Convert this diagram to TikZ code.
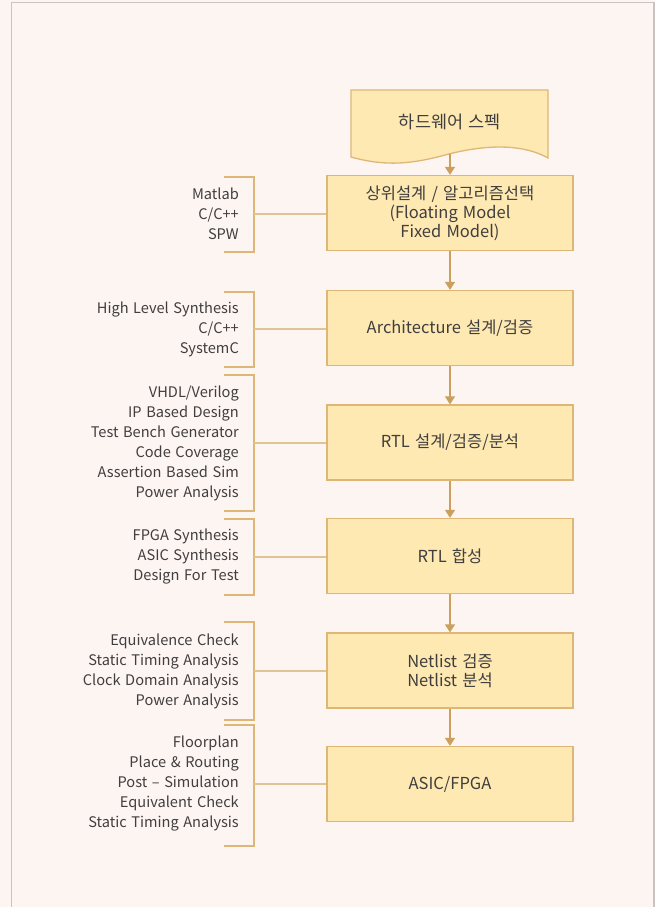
\documentclass[tikz,border=0pt]{standalone}
\usepackage{fontspec}
\setmainfont{Noto Sans CJK KR}[WordSpace=1.4]
\usetikzlibrary{arrows.meta}
\definecolor{bgc}{RGB}{253,245,242}
\definecolor{framec}{RGB}{200,196,194}
\definecolor{boxfill}{RGB}{254,233,179}
\definecolor{boxline}{RGB}{222,183,118}
\definecolor{linkc}{RGB}{226,196,146}
\definecolor{arrowc}{RGB}{202,160,92}
\definecolor{txt}{RGB}{64,62,62}
\tikzset{
  mainbox/.style={draw=boxline, fill=boxfill, line width=1.3pt, minimum width=246pt, minimum height=75pt, align=center, text=txt, font=\fontsize{16.5pt}{19pt}\selectfont, inner sep=0pt},
  sidetext/.style={anchor=east, align=right, text=txt, font=\fontsize{14.6pt}{20pt}\selectfont, inner sep=0pt},
  bracket/.style={draw=boxline, line width=1.1pt},
  link/.style={draw=linkc, line width=1.4pt},
  flow/.style={draw=arrowc, line width=1.3pt, -{Triangle[width=10pt,length=8pt]}},
}
\begin{document}
\begin{tikzpicture}[x=1pt,y=-1pt]
\useasboundingbox (0,0) rectangle (655,907);
\fill[bgc] (0,0) rectangle (655,907);
\draw[framec, line width=1.3pt] (11.5,910) -- (11.5,2.5) -- (654,2.5) -- (654,910);

% document shape
\draw[boxline, fill=boxfill, line width=1.3pt] (351,90) -- (548,90) -- (548,158)
  .. controls (525,145) and (490,143) .. (445,155)
  .. controls (405,166) and (380,165) .. (351,157) -- cycle;
\node[text=txt, font=\fontsize{17.5pt}{19pt}\selectfont] (spec) at (450,122) {하드웨어 스펙};
\coordinate (specb) at (450,154);

% main boxes
\node[mainbox] (m1) at (450,213) {상위설계 / 알고리즘선택\\(Floating Model\\Fixed Model)};
\node[mainbox] (m2) at (450,328) {Architecture 설계/검증};
\node[mainbox] (m3) at (450,442.5) {RTL 설계/검증/분석};
\node[mainbox] (m4) at (450,556) {RTL 합성};
\node[mainbox] (m5) at (450,670.5) {Netlist 검증\\Netlist 분석};
\node[mainbox] (m6) at (450,784) {ASIC/FPGA};

\draw[flow] (specb) -- (m1.north);
\draw[flow] (m1.south) -- (m2.north);
\draw[flow] (m2.south) -- (m3.north);
\draw[flow] (m3.south) -- (m4.north);
\draw[flow] (m4.south) -- (m5.north);
\draw[flow] (m5.south) -- (m6.north);

% side texts
\node[sidetext] (s1) at (239,214) {Matlab\\C/C++\\SPW};
\node[sidetext] (s2) at (239,329) {High Level Synthesis\\C/C++\\SystemC};
\node[sidetext] (s3) at (239,443) {VHDL/Verilog\\IP Based Design\\Test Bench Generator\\Code Coverage\\Assertion Based Sim\\Power Analysis};
\node[sidetext] (s4) at (239,557) {FPGA Synthesis\\ASIC Synthesis\\Design For Test};
\node[sidetext] (s5) at (239,671) {Equivalence Check\\Static Timing Analysis\\Clock Domain Analysis\\Power Analysis};
\node[sidetext] (s6) at (239,784) {Floorplan\\Place \& Routing\\Post – Simulation\\Equivalent Check\\Static Timing Analysis};

% brackets
\draw[bracket] (224,177) -- (254,177) -- (254,252) -- (224,252);
\draw[bracket] (224,292) -- (254,292) -- (254,367) -- (224,367);
\draw[bracket] (224,375) -- (254,375) -- (254,511) -- (224,511);
\draw[bracket] (224,519) -- (254,519) -- (254,595) -- (224,595);
\draw[bracket] (224,622) -- (254,622) -- (254,720) -- (224,720);
\draw[bracket] (224,725) -- (254,725) -- (254,846) -- (224,846);

\coordinate (b1) at (254,214);
\coordinate (b2) at (254,329);
\coordinate (b3) at (254,443);
\coordinate (b4) at (254,557);
\coordinate (b5) at (254,671);
\coordinate (b6) at (254,784);
\draw[link] (b1) -- (m1.west |- b1);
\draw[link] (b2) -- (m2.west |- b2);
\draw[link] (b3) -- (m3.west |- b3);
\draw[link] (b4) -- (m4.west |- b4);
\draw[link] (b5) -- (m5.west |- b5);
\draw[link] (b6) -- (m6.west |- b6);
\end{tikzpicture}
\end{document}
